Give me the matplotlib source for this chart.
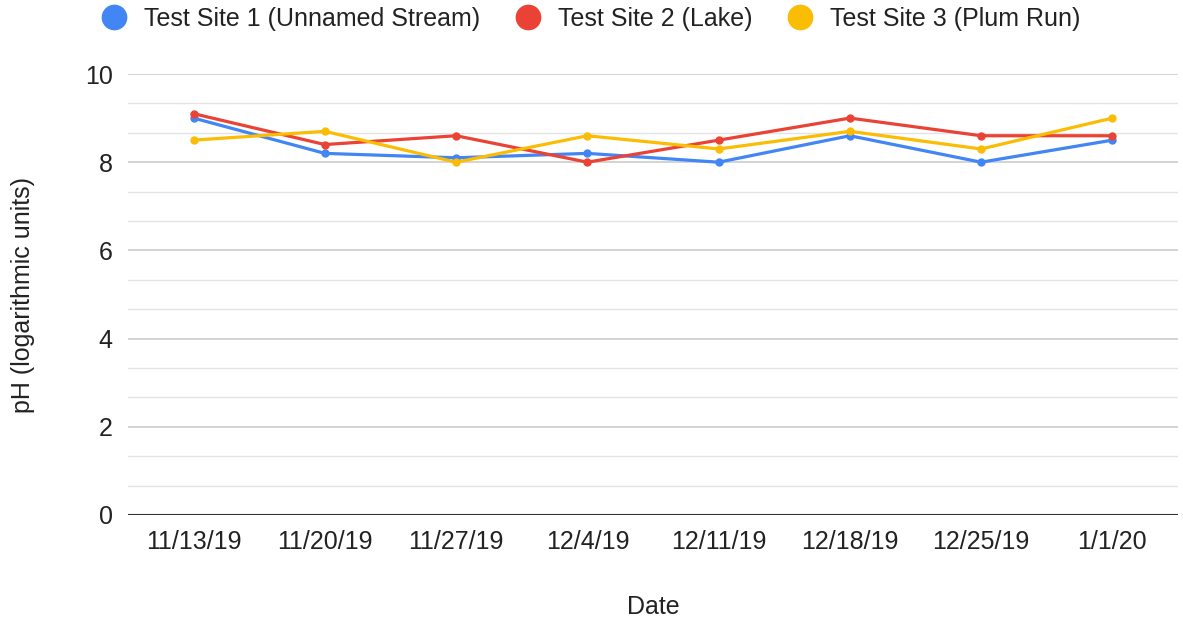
import numpy as np
import matplotlib.pyplot as plt
from matplotlib.ticker import MultipleLocator

# Data
dates = ['11/13/19', '11/20/19', '11/27/19', '12/4/19', '12/11/19', '12/18/19', '12/25/19', '1/1/20']
site1 = [9.0, 8.2, 8.1, 8.2, 8.0, 8.6, 8.0, 8.5]
site2 = [9.1, 8.4, 8.6, 8.0, 8.5, 9.0, 8.6, 8.6]
site3 = [8.5, 8.7, 8.0, 8.6, 8.3, 8.7, 8.3, 9.0]
labels = ['Test Site 1 (Unnamed Stream)', 'Test Site 2 (Lake)', 'Test Site 3 (Plum Run)']
colors = ['#4285F4', '#EA4335', '#FBBC04']

plt.rcParams['font.family'] = ['Liberation Sans', 'DejaVu Sans']
fs = 18
txt = '#222222'

fig = plt.figure(figsize=(11.83, 6.25), dpi=100)
ax = fig.add_axes([128 / 1183, 1 - 515 / 625, 1050 / 1183, 441 / 625])

x = np.arange(len(dates))
for y, lab, col in zip([site1, site2, site3], labels, colors):
    ax.plot(x, y, color=col, lw=2.3, marker='o', ms=5, label=lab, zorder=3)

ax.set_xlim(-0.5, len(dates) - 0.5)
ax.set_ylim(0, 10)
ax.yaxis.set_major_locator(MultipleLocator(2))
ax.yaxis.set_minor_locator(MultipleLocator(2 / 3))
ax.grid(True, which='major', axis='y', color='#cccccc', lw=1.2)
ax.grid(True, which='minor', axis='y', color='#e3e3e3', lw=1.0)
ax.axhline(0, color='#333333', lw=1.5, zorder=2)
ax.set_axisbelow(True)
for s in ax.spines.values():
    s.set_visible(False)

ax.set_xticks(x)
ax.set_xticklabels(dates)
ax.tick_params(axis='both', which='both', length=0, labelsize=fs, colors=txt)
ax.tick_params(axis='x', pad=11)
ax.tick_params(axis='y', pad=11)

# axis titles placed like the reference
fig.text(653 / 1183, 1 - 607 / 625, 'Date', fontsize=fs, color=txt, ha='center', va='center')
fig.text(23 / 1183, 1 - 295 / 625, 'pH (logarithmic units)', fontsize=fs, color=txt,
         ha='center', va='center', rotation=90)

fig.legend(handles=ax.lines, labels=labels, loc='center', bbox_to_anchor=(0.505, 1 - 19 / 625),
           ncol=3, frameon=False, fontsize=fs, handlelength=0, handletextpad=1.2,
           columnspacing=1.9, markerscale=3.5, labelcolor=txt)
leg = fig.legends[0]
for h in leg.legend_handles:
    h.set_linestyle('none')

fig.savefig('out.png', dpi=100)
